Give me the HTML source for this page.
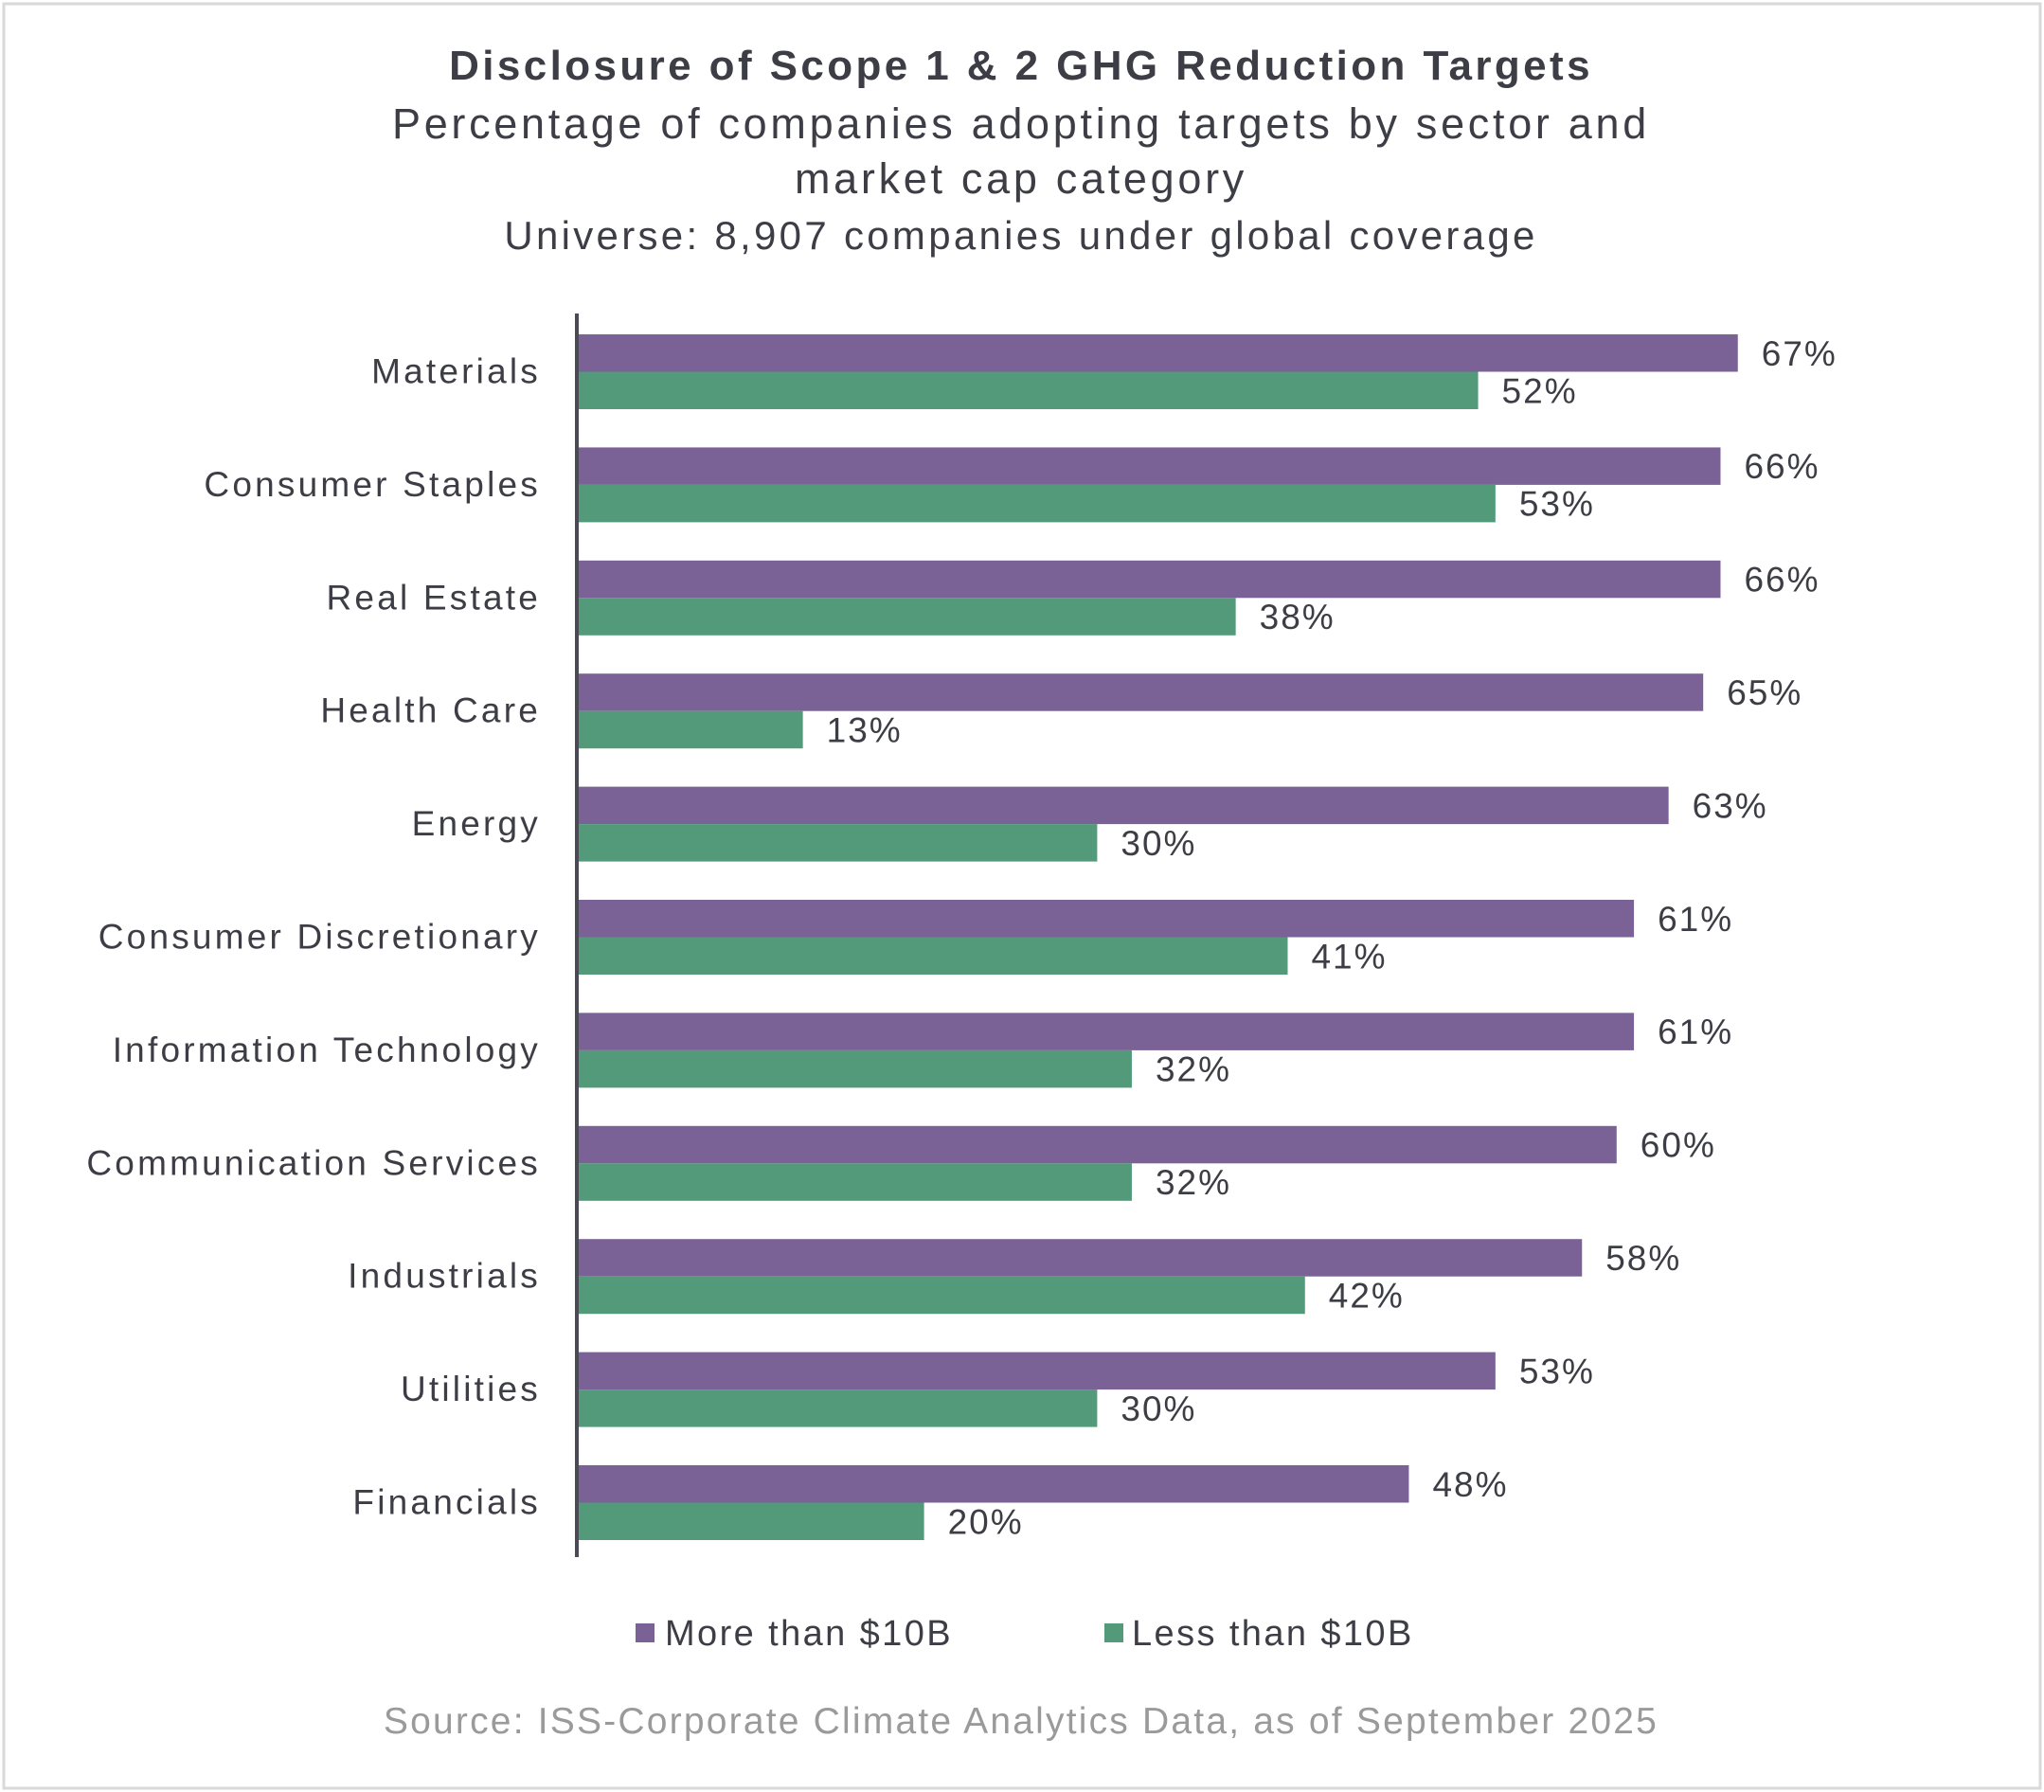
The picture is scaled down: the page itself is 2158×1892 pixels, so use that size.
<!DOCTYPE html>
<html><head><meta charset="utf-8"><style>
body{margin:0;background:#fff;width:2158px;height:1892px;overflow:hidden;font-family:"Liberation Sans",sans-serif;}
</style></head><body>
<svg width="2158" height="1892" style="position:absolute;left:0;top:0">
<rect x="4" y="4" width="2150" height="1884" fill="#fff" stroke="#d9d9d9" stroke-width="3"/>
<g fill="#3d3d46" text-anchor="middle">
<text x="1078" y="84" font-size="44" font-weight="bold" letter-spacing="3.4">Disclosure of Scope 1 &amp; 2 GHG Reduction Targets</text>
<text x="1078" y="146" font-size="45" letter-spacing="3.7">Percentage of companies adopting targets by sector and</text>
<text x="1078" y="204" font-size="45" letter-spacing="3.7">market cap category</text>
<text x="1078" y="263" font-size="42" letter-spacing="3.3">Universe: 8,907 companies under global coverage</text>
</g>
<g id="plot"></g>
<line x1="609" y1="331" x2="609" y2="1644" stroke="#4a4a55" stroke-width="4"/>
<g font-size="38" fill="#3d3d46" letter-spacing="2.4">
<rect x="671" y="1714" width="20" height="20" fill="#7b6296"/>
<text x="702" y="1737">More than $10B</text>
<rect x="1166" y="1714" width="20" height="20" fill="#529a79"/>
<text x="1195" y="1737">Less than $10B</text>
</g>
<text x="1078" y="1830" text-anchor="middle" font-size="39" letter-spacing="2.2" fill="#9a9a9a">Source: ISS-Corporate Climate Analytics Data, as of September 2025</text>
</svg>
<script>
const categories=["Materials","Consumer Staples","Real Estate","Health Care","Energy","Consumer Discretionary","Information Technology","Communication Services","Industrials","Utilities","Financials"];
const largeCap=[67,66,66,65,63,61,61,60,58,53,48];
const smallCap=[52,53,38,13,30,41,32,32,42,30,20];
const NS="http://www.w3.org/2000/svg";
const g=document.getElementById('plot');
const x0=609,pxPer=18.28,top0=353,step=119.4,bh=39.5;
const xs=v=>v*pxPer;
function mk(t,a){const e=document.createElementNS(NS,t);for(const k in a)e.setAttribute(k,a[k]);g.appendChild(e);return e;}
categories.forEach((c,i)=>{
 const y=top0+i*step;
 const lab=mk('text',{x:571,y:y+bh+12,'text-anchor':'end','font-size':37,'letter-spacing':3.2,fill:'#3d3d46'});
 lab.textContent=c;
 
 
 [[largeCap[i],'#7b6296',y,'bar-large-cap'],[smallCap[i],'#529a79',y+bh,'bar-small-cap']].forEach(([v,col,yy,nm])=>{
  const r=mk('rect',{x:x0+1,y:yy,width:xs(v),height:bh,fill:col});
  
  
  const t=mk('text',{x:x0+xs(v)+26,y:yy+bh/2+13,'font-size':37,'letter-spacing':2,fill:'#3d3d46'});
  t.textContent=v+'%';
  
  
 });
});
</script>
</body></html>
